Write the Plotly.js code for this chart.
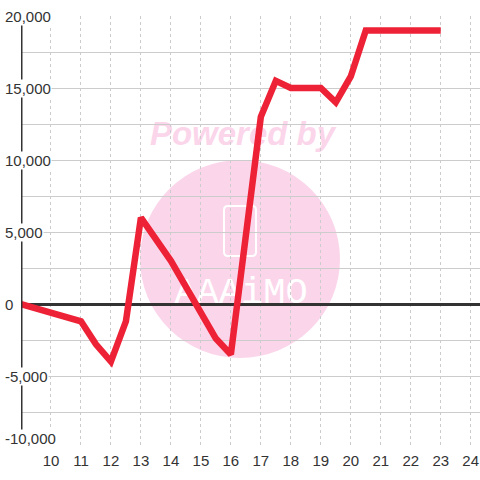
<!DOCTYPE html>
<html>
<head>
<meta charset="utf-8">
<script src="https://cdn.plot.ly/plotly-3.0.1.min.js"></script>
<style>html,body{margin:0;padding:0;background:#fff;}#chart{width:480px;height:480px;}</style>
</head>
<body>
<div id="chart"></div>
<script>
// ---- data ----
const xValues = [9, 11, 11.5, 12, 12.5, 13, 14, 15.5, 16, 17, 17.5, 18, 19, 19.5, 20, 20.5, 21, 22, 23];
const yValues = [0, -1200, -2800, -4000, -1200, 6000, 3000, -2400, -3500, 13000, 15500, 15000, 15000, 14000, 15800, 19000, 19000, 19000, 19000];
const xTicks = [10, 11, 12, 13, 14, 15, 16, 17, 18, 19, 20, 21, 22, 23, 24];
const yTicks = [20000, 15000, 10000, 5000, 0, -5000, -10000];
const yTickText = ['20,000', '15,000', '10,000', '5,000', '0', '-5,000', '-10,000'];

// ---- layout helpers (pixel -> paper) ----
const L = 21, T = 16, W = 459, H = 432;
const px = p => (p - L) / W;
const py = p => (T + H - p) / H;
const yMin = -10000, yMax = 20000;

const font = 'Liberation Sans, Arial, sans-serif';
const pink = '#fbd6eb';

const trace = {
  x: xValues, y: yValues, type: 'scatter', mode: 'lines',
  line: {color: '#ee2236', width: 6.5},
  hoverinfo: 'skip'
};

const annotations = yTicks.map((v, i) => ({
  xref: 'paper', yref: 'y', x: px(4), y: v, xanchor: 'left',
  yanchor: v === yMin ? 'bottom' : 'middle',
  text: yTickText[i], showarrow: false, bgcolor: '#ffffff', borderpad: 0,
  font: {family: font, size: 15, color: '#333333'}
}));

const shapes = [
  // watermark circle
  {type: 'circle', xref: 'paper', yref: 'paper', layer: 'below',
   x0: px(140), x1: px(340), y0: py(358), y1: py(160),
   fillcolor: pink, line: {width: 0}},
  // watermark text
  {type: 'rect', xref: 'paper', yref: 'paper', layer: 'below',
   x0: px(140), x1: px(345), y0: py(147), y1: py(113),
   fillcolor: 'rgba(0,0,0,0)', line: {width: 0},
   label: {text: 'Powered by', textposition: 'middle center',
     font: {family: font, size: 33, color: pink, weight: 'bold', style: 'italic'}}},
  // logo rounded rect
  {type: 'path', xref: 'paper', yref: 'paper', layer: 'below',
   path: `M ${px(228)} ${py(206)} L ${px(252)} ${py(206)} Q ${px(256)} ${py(206)} ${px(256)} ${py(210)} L ${px(256)} ${py(252)} Q ${px(256)} ${py(256)} ${px(252)} ${py(256)} L ${px(228)} ${py(256)} Q ${px(224)} ${py(256)} ${px(224)} ${py(252)} L ${px(224)} ${py(210)} Q ${px(224)} ${py(206)} ${px(228)} ${py(206)} Z`,
   fillcolor: 'rgba(0,0,0,0)', line: {color: '#ffffff', width: 2}},
  // logo letters
  {type: 'rect', xref: 'paper', yref: 'paper', layer: 'below',
   x0: px(170), x1: px(312), y0: py(306), y1: py(268),
   fillcolor: 'rgba(0,0,0,0)', line: {width: 0},
   label: {text: 'AAAiMO', textposition: 'middle center',
     font: {family: 'Liberation Mono, monospace', size: 37, color: '#ffffff'}}},
  // y axis line
  {type: 'line', xref: 'x', yref: 'y', layer: 'above',
   x0: xValues[0], x1: xValues[0], y0: -9100, y1: 19450,
   line: {color: '#333333', width: 3}}
];

const layout = {
  width: 480, height: 480,
  margin: {l: L, r: 480 - L - W, t: T, b: 480 - T - H, pad: 0},
  paper_bgcolor: '#ffffff', plot_bgcolor: '#ffffff',
  showlegend: false,
  xaxis: {
    range: [9, 9 + W / 29.98], tickvals: xTicks, ticktext: xTicks.map(String),
    showgrid: true, gridcolor: '#cccccc', gridwidth: 1, griddash: '3px,3px',
    zeroline: false, showline: false, ticks: '', ticklabelstandoff: 2,
    tickfont: {family: font, size: 15, color: '#333333'}, fixedrange: true
  },
  yaxis: {
    range: [yMin, yMax], tick0: 0, dtick: 2500,
    showgrid: true, gridcolor: '#cccccc', gridwidth: 1,
    zeroline: true, zerolinecolor: '#333333', zerolinewidth: 3,
    showline: false, ticks: '', showticklabels: false, fixedrange: true
  },
  shapes: shapes,
  annotations: annotations
};

Plotly.newPlot('chart', [trace], layout, {displayModeBar: false, staticPlot: true});
</script>
</body>
</html>
